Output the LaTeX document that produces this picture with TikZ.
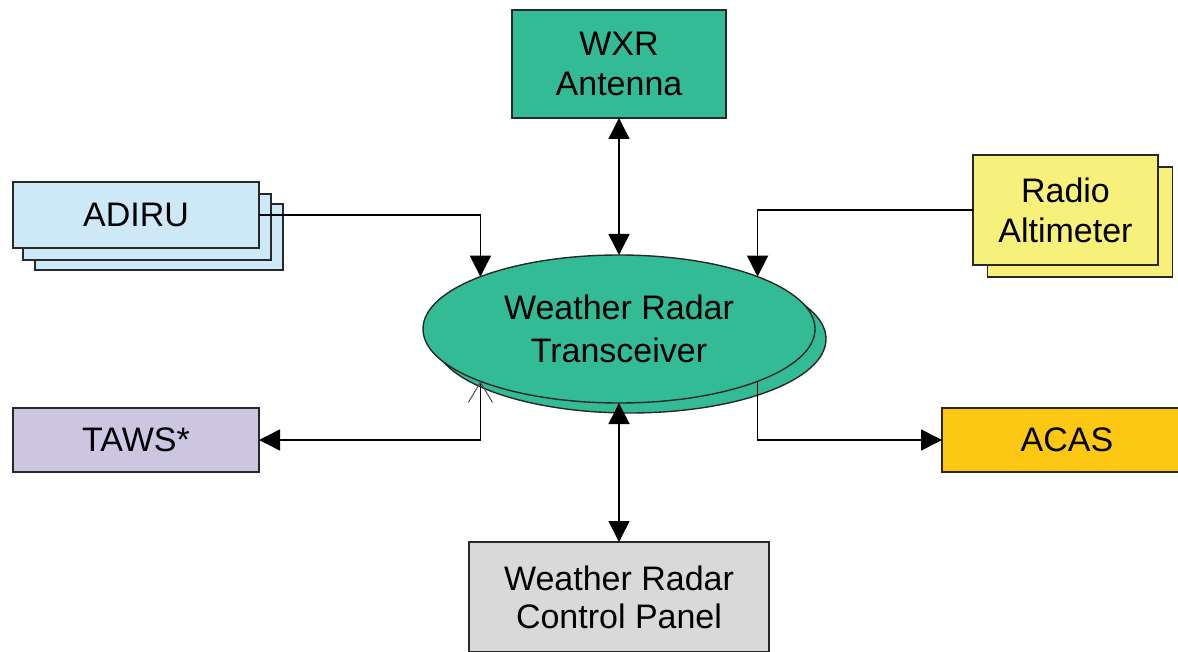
\documentclass[tikz,border=0pt]{standalone}
\usepackage{fontspec}
\setmainfont{Liberation Sans}
\usetikzlibrary{shapes.geometric,arrows.meta}
\definecolor{tealfill}{RGB}{51,187,150}
\definecolor{adirufill}{RGB}{205,232,246}
\definecolor{radiofill}{RGB}{247,240,122}
\definecolor{tawsfill}{RGB}{204,198,226}
\definecolor{acasfill}{RGB}{252,200,20}
\definecolor{cpfill}{RGB}{217,217,217}
\definecolor{edge}{RGB}{40,40,40}
\tikzset{
  box/.style={draw=edge, line width=1.6pt, inner sep=0pt, outer sep=0pt, align=center,
    font=\fontsize{34}{40}\selectfont},
  ovalbox/.style={ellipse, draw=edge, line width=1.4pt, fill=tealfill, inner sep=0pt, outer sep=0pt,
    minimum width=392pt, minimum height=148pt, align=center, font=\fontsize{34}{43}\selectfont},
  conn/.style={line width=1.5pt, draw=black},
  tip/.style={Triangle[length=21pt,width=21pt]},
  onearrow/.style={conn, -{Triangle[length=21pt,width=21pt]}},
  twoarrow/.style={conn, {Triangle[length=21pt,width=21pt]}-{Triangle[length=21pt,width=21pt]}},
  barbarrow/.style={conn, {Straight Barb[length=20pt,width=24pt,line width=1pt,color=black!70]}-{Triangle[length=21pt,width=21pt]}}
}
\begin{document}
\begin{tikzpicture}[x=1pt,y=-1pt]
\useasboundingbox (0,0) rectangle (1178,652);
\fill[white] (0,0) rectangle (1178,652);

% WXR antenna
\node[box, fill=tealfill, minimum width=214pt, minimum height=108pt] (wxr) at (619,64) {WXR\\Antenna};

% ADIRU stack
\node[box, fill=adirufill, minimum width=248pt, minimum height=66pt] (adiru3) at (159,237) {};
\node[box, fill=adirufill, minimum width=248pt, minimum height=66pt] (adiru2) at (147,227) {};
\node[box, fill=adirufill, minimum width=246pt, minimum height=66pt] (adiru) at (136,215) {ADIRU};

% Radio altimeter stack
\node[box, fill=radiofill, minimum width=185pt, minimum height=110pt] (radioback) at (1080,222) {};
\node[box, fill=radiofill, minimum width=185pt, minimum height=110pt] (radio) at (1065.5,210) {Radio\\Altimeter};

% TAWS, ACAS, control panel
\node[box, fill=tawsfill, minimum width=246pt, minimum height=64pt] (taws) at (136,440) {TAWS*};
\node[box, fill=acasfill, minimum width=250pt, minimum height=64pt] (acas) at (1067,440) {ACAS};
\node[box, fill=cpfill, minimum width=300pt, minimum height=110pt, font=\fontsize{34}{38}\selectfont] (cp) at (619,597) {Weather Radar\\Control Panel};

% Transceiver
\node[ovalbox] (trxback) at (630,339) {};
\node[ovalbox] (trx) at (619,329) {Weather Radar\\Transceiver};

% Connectors
\draw[twoarrow] (wxr.south) -- (trx.north);
\draw[twoarrow] (trx.south) -- (cp.north);
\draw[onearrow] (adiru.east) -| (trx.north west);
\draw[onearrow] (radio.west) -| (trx.north east);
\draw[barbarrow] (trx.south west) |- (taws.east);
\draw[onearrow] (trx.south east) |- (acas.west);
\end{tikzpicture}
\end{document}
